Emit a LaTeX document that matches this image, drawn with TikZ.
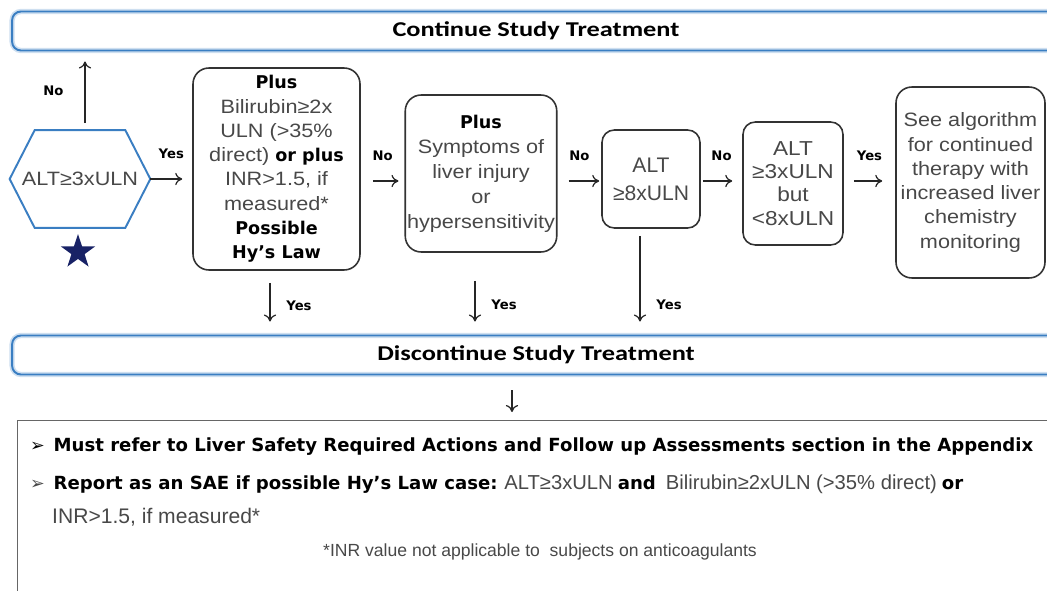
\documentclass[tikz,border=0pt]{standalone}
\usepackage{xcolor}
\usepackage{fontspec}
\setmainfont{Liberation Sans}
\newfontfamily\boxfont[FakeStretch=1.12]{Liberation Sans}
\newfontfamily\bannerfont[FakeStretch=1.25]{Carlito}
\newfontfamily\heavyfont{DejaVu Sans}
\usepackage{tikz}
\usetikzlibrary{arrows.meta,shapes.geometric}

\definecolor{hexblue}{RGB}{58,126,194}
\definecolor{starblue}{RGB}{24,34,102}
\definecolor{txtgray}{RGB}{72,72,72}

\newcommand\boldbit[1]{{\heavyfont\bfseries\color{black}\fontsize{10}{12.5}\selectfont #1}}
\newcommand\sumbold[1]{{\heavyfont\bfseries\color{black}#1}}
\newcommand\arrowbullet{{\heavyfont\fontsize{10}{12}\selectfont ➢}}

\begin{document}
\begin{tikzpicture}[x=0.02cm, y=-0.02cm,
    banner/.style={draw=hexblue, line width=1.1pt, rounded corners=5pt,
      preaction={draw=hexblue!25, line width=3pt},
      minimum width=20.96cm, minimum height=0.78cm,
      font=\bannerfont\bfseries\fontsize{12}{14}\selectfont},
    flowbox/.style={draw=black!80, line width=0.9pt, rounded corners=9pt,
      align=center, text=txtgray, inner sep=1pt,
      font=\boxfont\fontsize{11}{13.8}\selectfont},
    yesno/.style={font=\heavyfont\bfseries\fontsize{7.5}{9}\selectfont, text=black},
    flowarrow/.style={-{To[length=4pt,width=7pt]}, line width=0.7pt, black!85},
    hexa/.style={minimum width=2.8cm, minimum height=1.94cm, inner sep=0pt,
      text=txtgray, font=\boxfont\fontsize{11}{13}\selectfont}
  ]
  \useasboundingbox (0,0) rectangle (1047,591);

  \node[banner] (cont) at (536,31) {Continue Study Treatment};
  \node[banner] (discont) at (536,355) {Discontinue Study Treatment};

  \node[hexa] (alt) at (80,179) {ALT≥3xULN};
  \draw[hexblue, line width=1.1pt] (alt.west) -- ([xshift=0.5cm]alt.north west)
    -- ([xshift=-0.5cm]alt.north east) -- (alt.east)
    -- ([xshift=-0.5cm]alt.south east) -- ([xshift=0.5cm]alt.south west) -- cycle;
  \node[star, star points=5, star point ratio=2.6, fill=starblue,
        minimum size=0.72cm, inner sep=0pt] (star) at (78,252) {};

  \node[flowbox, minimum width=3.34cm, minimum height=4.04cm] (hyslaw) at (276.5,169)
    {\boldbit{Plus}\\Bilirubin≥2x\\ULN (>35\%\\direct) \boldbit{or plus}\\INR>1.5, if\\measured*\\\boldbit{Possible}\\\boldbit{Hy’s Law}};
  \node[flowbox, minimum width=3.0cm, minimum height=3.14cm,
        font=\boxfont\fontsize{11}{14.2}\selectfont] (symptoms) at (481,173.5)
    {\boldbit{Plus}\\Symptoms of\\liver injury\\or\\hypersensitivity};
  \node[flowbox, rounded corners=7pt, minimum width=1.96cm, minimum height=1.96cm,
        font=\fontsize{12}{16}\selectfont] (alteight) at (651,179)
    {ALT\\≥8xULN};
  \node[flowbox, rounded corners=7pt, minimum width=2.0cm, minimum height=2.46cm,
        font=\boxfont\fontsize{11.5}{13.2}\selectfont] (altrange) at (793,183.5)
    {ALT\\≥3xULN\\but\\<8xULN};
  \node[flowbox, minimum width=2.98cm, minimum height=3.82cm] (monitor) at (970.5,182.5)
    {See algorithm\\for continued\\therapy with\\increased liver\\chemistry\\monitoring};

  \node[draw=black!60, line width=0.8pt, anchor=north west,
        minimum width=20.86cm, minimum height=3.6cm] (sumbox) at (17,420) {};

  \coordinate (row) at (0,181);

  % arrows along the row
  \draw[flowarrow, shorten <=0.14cm, shorten >=0.2cm]
    ([xshift=0.1cm]alt.north) -- ([xshift=0.1cm]alt.north |- cont.south)
    node[yesno, midway, left=0.3cm] (noup) {No};
  \draw[flowarrow, shorten >=0.2cm] (alt.east) -- (hyslaw.west |- alt.east)
    node[yesno, midway, above=0.28cm] (yesone) {Yes};
  \draw[flowarrow, shorten <=0.24cm, shorten >=0.12cm] (hyslaw.east |- row) -- (symptoms.west |- row)
    node[yesno, midway, above=0.28cm] (noone) {No};
  \draw[flowarrow, shorten <=0.22cm, shorten >=0.04cm] (symptoms.east |- row) -- (alteight.west |- row)
    node[yesno, midway, above=0.28cm] (notwo) {No};
  \draw[flowarrow, shorten <=0.04cm, shorten >=0.2cm] (alteight.east |- row) -- (altrange.west |- row)
    node[yesno, midway, above=0.28cm] (nothree) {No};
  \draw[flowarrow, shorten <=0.2cm, shorten >=0.26cm] (altrange.east |- row) -- (monitor.west |- row)
    node[yesno, midway, above=0.28cm] (yestwo) {Yes};

  % arrows down to discontinue
  \draw[flowarrow, shorten <=0.24cm, shorten >=0.26cm]
    ([xshift=-0.13cm]hyslaw.south) -- ([xshift=-0.13cm]hyslaw.south |- discont.north)
    node[yesno, pos=0.55, right=0.2cm] (yesdownone) {Yes};
  \draw[flowarrow, shorten <=0.56cm, shorten >=0.26cm]
    ([xshift=-0.12cm]symptoms.south) -- ([xshift=-0.12cm]symptoms.south |- discont.north)
    node[yesno, pos=0.64, right=0.2cm] (yesdowntwo) {Yes};
  \draw[flowarrow, shorten <=0.14cm, shorten >=0.26cm]
    ([xshift=-0.22cm]alteight.south) -- ([xshift=-0.22cm]alteight.south |- discont.north)
    node[yesno, pos=0.72, right=0.2cm] (yesdownthree) {Yes};
  \draw[flowarrow, shorten <=0.3cm, shorten >=0.16cm]
    ([xshift=-0.48cm]discont.south) -- ([xshift=-0.48cm]discont.south |- sumbox.north);

  % summary text
  \node[anchor=west, font=\fontsize{10.3}{12}\selectfont] (mustrefer) at (24,447)
    {\arrowbullet\hspace{5pt}\sumbold{Must refer to Liver Safety Required Actions and Follow up Assessments section in the Appendix}};
  \node[anchor=west, font=\fontsize{10.3}{12}\selectfont, text=txtgray] (report) at (24,484)
    {\arrowbullet\hspace{5pt}\sumbold{Report as an SAE if possible Hy’s Law case:} {\fontsize{11.5}{13}\selectfont ALT≥3xULN} \sumbold{and}\ \ {\fontsize{11.5}{13}\selectfont Bilirubin≥2xULN (>35\% direct)} \sumbold{or}};
  \node[anchor=west, font=\fontsize{12}{14}\selectfont, text=txtgray] (inrline) at (46,517)
    {INR>1.5, if measured*};
  \node[font=\fontsize{10}{12}\selectfont, text=txtgray] (footnote) at (540,552)
    {*INR value not applicable to\ \ subjects on anticoagulants};
\end{tikzpicture}
\end{document}
